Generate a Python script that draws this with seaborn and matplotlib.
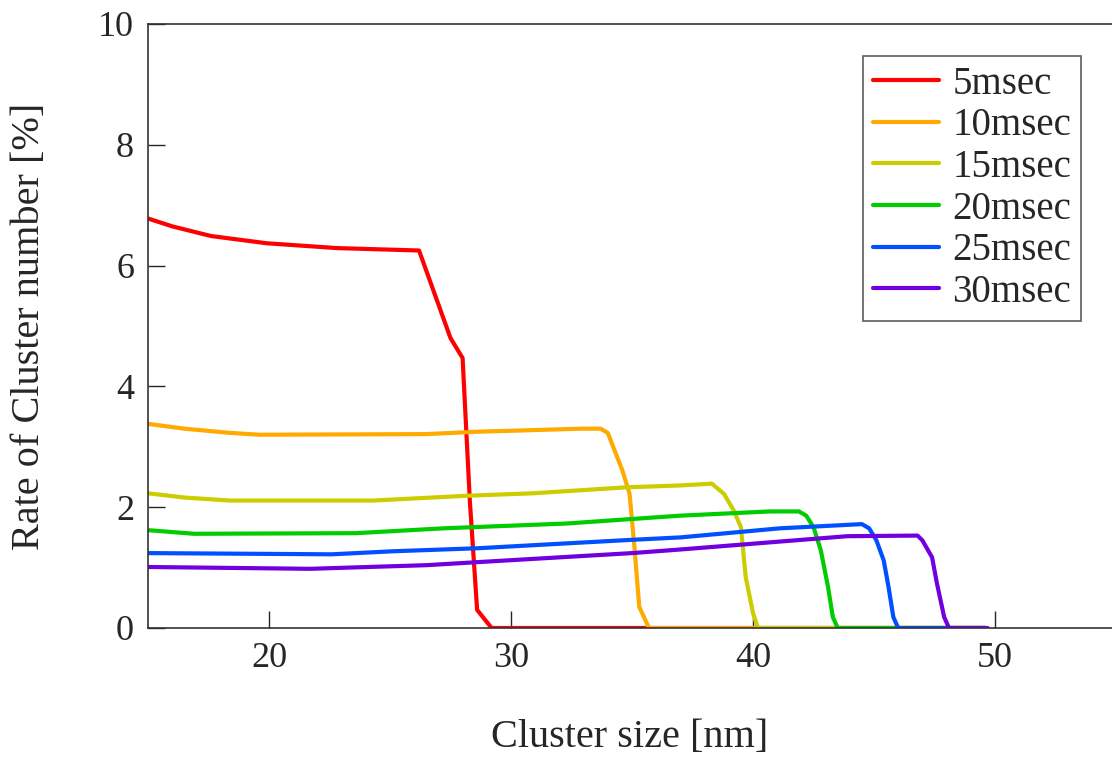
import pandas as pd
import numpy as np
import seaborn as sns
import matplotlib.pyplot as plt

# cluster size [nm] and rate [%] for each pulse time
x_5 = [15, 16, 17.6, 19.9, 22.8, 26.2, 27.5, 28.0, 28.3, 28.6, 29.2, 49.6]
y_5 = [6.78, 6.65, 6.49, 6.37, 6.29, 6.25, 4.8, 4.47, 2.1, 0.3, 0, 0]

x_10 = [15, 16.5, 18.4, 19.6, 26.5, 28.6, 30.4, 32.9, 33.7, 34.0, 34.6, 34.9, 35.1, 35.3, 35.7, 49.6]
y_10 = [3.38, 3.30, 3.23, 3.20, 3.21, 3.25, 3.27, 3.30, 3.30, 3.23, 2.61, 2.22, 1.34, 0.35, 0, 0]

x_15 = [15, 16.5, 18.4, 24.3, 28.2, 30.9, 34.8, 37.0, 38.3, 38.8, 39.2, 39.5, 39.7, 40.0, 40.2, 49.6]
y_15 = [2.23, 2.16, 2.11, 2.11, 2.19, 2.23, 2.33, 2.36, 2.39, 2.22, 1.95, 1.67, 0.84, 0.25, 0, 0]

x_20 = [15, 16.9, 23.6, 27.2, 32.3, 37.0, 40.7, 41.9, 42.2, 42.5, 42.8, 43.1, 43.3, 43.5, 49.6]
y_20 = [1.62, 1.56, 1.57, 1.65, 1.73, 1.86, 1.93, 1.93, 1.86, 1.67, 1.29, 0.68, 0.18, 0, 0]

x_25 = [15, 22.6, 25.1, 28.6, 35.0, 37.0, 41.1, 44.5, 44.8, 45.1, 45.4, 45.6, 45.8, 46.0, 49.6]
y_25 = [1.24, 1.22, 1.27, 1.32, 1.46, 1.50, 1.65, 1.72, 1.65, 1.45, 1.12, 0.68, 0.18, 0, 0]

x_30 = [15, 21.7, 26.5, 28.6, 35.0, 37.0, 43.9, 46.8, 47.0, 47.4, 47.6, 47.9, 48.1, 49.7]
y_30 = [1.01, 0.98, 1.04, 1.09, 1.24, 1.30, 1.52, 1.53, 1.45, 1.17, 0.74, 0.18, 0, 0]

labels = ["5msec", "10msec", "15msec", "20msec", "25msec", "30msec"]
colors = ["#FF0000", "#FFAA00", "#CCCC00", "#00CC00", "#0050FF", "#7000E0"]

series = [(x_5, y_5), (x_10, y_10), (x_15, y_15), (x_20, y_20), (x_25, y_25), (x_30, y_30)]
frames = []
for lab, (xs, ys) in zip(labels, series):
    frames.append(pd.DataFrame({"size": xs, "rate": ys, "time": lab}))
df = pd.concat(frames, ignore_index=True)

sns.set_style("ticks")
plt.rcParams["font.family"] = ["Liberation Serif", "DejaVu Serif"]

fig = plt.figure(figsize=(11.12, 7.62), dpi=100)
ax = fig.add_axes([148 / 1112, 134 / 762, 968 / 1112, 604 / 762])

sns.lineplot(data=df, x="size", y="rate", hue="time", hue_order=labels,
             palette=colors, estimator=None, sort=False, linewidth=3, ax=ax)

ax.set_xlim(15, 55)
ax.set_ylim(0, 10)
ax.set_xticks([20, 30, 40, 50])
ax.set_yticks([0, 2, 4, 6, 8, 10])
ax.tick_params(direction="in", length=12, width=1, labelsize=26, pad=10,
               top=False, right=False)
for s in ax.spines.values():
    s.set_linewidth(1.2)
    s.set_color("#333333")

ax.set_xlabel("Cluster size [nm]", fontsize=29, va="center")
ax.set_ylabel("Rate of Cluster number [%]", fontsize=29, va="center")
ax.xaxis.set_label_coords(0.498, -0.182)
ax.yaxis.set_label_coords(-0.122, 0.5)

leg = ax.legend(loc="upper right", bbox_to_anchor=(1081 / 1112, 1 - 56 / 762),
                bbox_transform=fig.transFigure, borderaxespad=0, fontsize=28,
                frameon=True, fancybox=False, handlelength=1.7,
                labelspacing=0.12, borderpad=0.25, handletextpad=0.35)
leg.get_frame().set_edgecolor("#333333")
leg.get_frame().set_linewidth(1.2)
for line in leg.get_lines():
    line.set_linewidth(3)

fig.savefig("out.png", dpi=100)
